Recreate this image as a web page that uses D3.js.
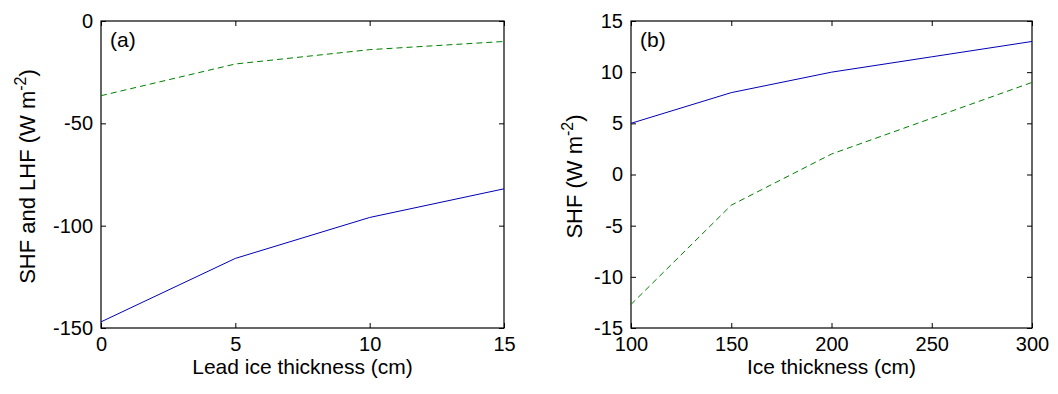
<html>
<head>
<meta charset="utf-8">
<script src="https://d3js.org/d3.v7.min.js"></script>
<style>
  body { margin: 0; background: #fff; }
  text { font-family: "Liberation Sans", Arial, sans-serif; fill: #000; }
</style>
</head>
<body>
<div id="chart"></div>
<script>
// panel (a)
var leadThickness = [0, 5, 10, 15];
var leadBlue = [-147, -116, -96, -82];
var leadGreen = [-36.5, -21, -14, -10];
var leadXTicks = [0, 5, 10, 15];
var leadYTicks = [-150, -100, -50, 0];

// panel (b)
var iceThickness = [100, 150, 200, 250, 300];
var iceBlue = [5, 8, 10, 11.5, 13];
var iceGreen = [-12.7, -3, 2, 5.5, 9];
var iceXTicks = [100, 150, 200, 250, 300];
var iceYTicks = [-15, -10, -5, 0, 5, 10, 15];

var width = 1058, height = 394;
var svg = d3.select("#chart").append("svg")
    .attr("width", width)
    .attr("height", height);

// plain hyphen minus, like the original
var fmt = function(d) { return String(d); };

function panel(opt) {
    var g = svg.append("g");
    var x = d3.scaleLinear().domain(opt.xDomain).range([opt.left, opt.right]);
    var y = d3.scaleLinear().domain(opt.yDomain).range([opt.bottom, opt.top]);
    var tick = 5;

    // inward ticks on all four sides
    g.append("g").attr("transform", "translate(0," + opt.bottom + ")")
        .call(d3.axisBottom(x).tickValues(opt.xTicks).tickSize(-tick).tickPadding(9).tickFormat(fmt));
    g.append("g").attr("transform", "translate(0," + opt.top + ")")
        .call(d3.axisTop(x).tickValues(opt.xTicks).tickSize(-tick).tickFormat(""));
    g.append("g").attr("transform", "translate(" + opt.left + ",0)")
        .call(d3.axisLeft(y).tickValues(opt.yTicks).tickSize(-tick).tickPadding(8).tickFormat(fmt));
    g.append("g").attr("transform", "translate(" + opt.right + ",0)")
        .call(d3.axisRight(y).tickValues(opt.yTicks).tickSize(-tick).tickFormat(""));

    g.selectAll(".domain").remove();
    g.selectAll(".tick line").attr("stroke", "#000");
    g.selectAll(".tick text")
        .style("font-family", "Liberation Sans, Arial, sans-serif")
        .style("font-size", "20px").attr("fill", "#000");

    g.append("rect")
        .attr("x", opt.left).attr("y", opt.top)
        .attr("width", opt.right - opt.left).attr("height", opt.bottom - opt.top)
        .attr("fill", "none").attr("stroke", "#000").attr("stroke-width", 1.2);

    var line = d3.line().x(function(d) { return x(d[0]); }).y(function(d) { return y(d[1]); });

    g.append("path")
        .datum(d3.zip(opt.xs, opt.green))
        .attr("d", line)
        .attr("fill", "none").attr("stroke", "#008000").attr("stroke-width", 1)
        .attr("stroke-dasharray", "6,4");
    g.append("path")
        .datum(d3.zip(opt.xs, opt.blue))
        .attr("d", line)
        .attr("fill", "none").attr("stroke", "#0000b4").attr("stroke-width", 1);

    g.append("text")
        .attr("x", opt.left + 9).attr("y", opt.top + 26)
        .style("font-size", "21px")
        .text(opt.tag);

    g.append("text")
        .attr("x", (opt.left + opt.right) / 2).attr("y", 374)
        .attr("text-anchor", "middle")
        .style("font-size", "21px")
        .text(opt.xLabel);

    var yl = g.append("text")
        .attr("transform", "translate(" + opt.yLabelX + "," + ((opt.top + opt.bottom) / 2 + 2) + ") rotate(-90)")
        .attr("text-anchor", "middle")
        .style("font-size", "22px");
    yl.append("tspan").text(opt.yLabel + " (W m");
    yl.append("tspan").attr("dy", -9).style("font-size", "16px").text("-2");
    yl.append("tspan").attr("dy", 9).text(")");
}

panel({
    left: 101, right: 504, top: 21, bottom: 328,
    xDomain: [0, 15], yDomain: [-150, 0],
    xTicks: leadXTicks, yTicks: leadYTicks,
    xs: leadThickness, blue: leadBlue, green: leadGreen,
    tag: "(a)", xLabel: "Lead ice thickness (cm)",
    yLabel: "SHF and LHF", yLabelX: 35
});

panel({
    left: 631, right: 1032, top: 21, bottom: 328,
    xDomain: [100, 300], yDomain: [-15, 15],
    xTicks: iceXTicks, yTicks: iceYTicks,
    xs: iceThickness, blue: iceBlue, green: iceGreen,
    tag: "(b)", xLabel: "Ice thickness (cm)",
    yLabel: "SHF", yLabelX: 582
});
</script>
</body>
</html>
